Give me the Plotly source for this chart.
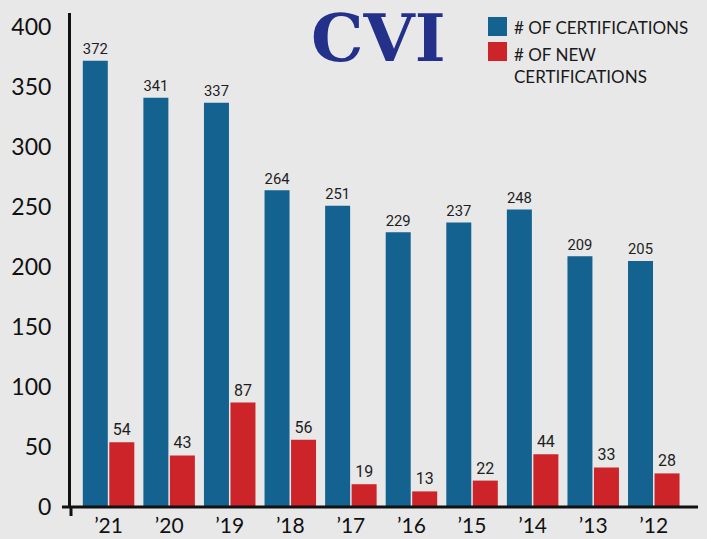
import plotly.graph_objects as go

years = ["\u201921", "\u201920", "\u201919", "\u201918", "\u201917", "\u201916", "\u201915", "\u201914", "\u201913", "\u201912"]
certifications = [372, 341, 337, 264, 251, 229, 237, 248, 209, 205]
new_certifications = [54, 43, 87, 56, 19, 13, 22, 44, 33, 28]
y_ticks = [0, 50, 100, 150, 200, 250, 300, 350, 400]

BLUE = "#13628f"
RED = "#cd2429"
NAVY = "#24318a"
BG = "#e8e8e8"
NARROW = "Roboto, Liberation Sans, sans-serif"
GEO = "Lato, Inter, Noto Sans, sans-serif"

fig = go.Figure()
fig.add_trace(go.Bar(
    x=years, y=certifications, name="# OF CERTIFICATIONS",
    marker=dict(color=BLUE, line=dict(width=0)),
    texttemplate="%{y}", textposition="outside",
    textfont=dict(family=NARROW, size=16, color="#1e1e1e"),
    cliponaxis=False, showlegend=False,
))
fig.add_trace(go.Bar(
    x=years, y=new_certifications, name="# OF NEW<br>CERTIFICATIONS",
    marker=dict(color=RED, line=dict(width=0)),
    texttemplate="%{y}", textposition="outside",
    textfont=dict(family=NARROW, size=16, color="#1e1e1e"),
    cliponaxis=False, showlegend=False,
))

W, H = 707, 539
L, R, T, B = 71, 9, 13, 32
pw, ph = W - L - R, H - T - B

def px(x):
    return (x - L) / pw

def py(y):
    return (H - B - y) / ph

fig.update_layout(
    width=W, height=H, autosize=False,
    margin=dict(l=L, r=R, t=T, b=B, pad=0, autoexpand=False),
    paper_bgcolor=BG, plot_bgcolor=BG,
    barmode="group", bargap=0.125, bargroupgap=0.057,
    xaxis=dict(
        type="category", range=[-0.62, 9.73], showgrid=False, showline=False,
        zeroline=False, ticks="", tickfont=dict(family=GEO, size=21, color="#111"),
        ticklabelstandoff=4, automargin=False,
    ),
    yaxis=dict(
        range=[0, 411.7], showgrid=False, zeroline=False, showline=True,
        linecolor="#111", linewidth=3, ticks="", tickvals=y_ticks,
        ticktext=[str(v) for v in y_ticks],
        tickfont=dict(family=GEO, size=23, color="#111"),
        ticklabelstandoff=12, automargin=False,
    ),
    font=dict(family=GEO),
)

# axis baseline extending slightly left of the y axis, and the small tick below
fig.add_shape(type="line", xref="paper", yref="paper", x0=px(62), x1=px(698), y0=0, y1=0,
              line=dict(color="#111", width=3))
fig.add_shape(type="line", xref="paper", yref="paper", x0=0, x1=0, y0=0, y1=py(516),
              line=dict(color="#111", width=3))

# title
fig.add_annotation(text="<b>CVI</b>", xref="paper", yref="paper", x=px(378), y=py(38),
                   xanchor="center", yanchor="middle", showarrow=False,
                   font=dict(family="DejaVu Serif, Liberation Serif, serif", size=66, color=NAVY))

# custom legend
fig.add_shape(type="rect", xref="paper", yref="paper", x0=px(488), x1=px(507), y0=py(36), y1=py(17),
              fillcolor=BLUE, line=dict(width=0))
fig.add_shape(type="rect", xref="paper", yref="paper", x0=px(488), x1=px(507), y0=py(61), y1=py(42),
              fillcolor=RED, line=dict(width=0))
fig.add_annotation(text=fig.data[0].name, xref="paper", yref="paper", x=px(512), y=py(27),
                   xanchor="left", yanchor="middle", showarrow=False, align="left",
                   font=dict(family=GEO, size=17, color="#1a1a1a"))
fig.add_annotation(text=fig.data[1].name, xref="paper", yref="paper", x=px(512), y=py(42),
                   xanchor="left", yanchor="top", showarrow=False, align="left",
                   font=dict(family=GEO, size=17, color="#1a1a1a"))

fig.write_html(
    "out.html",
    config={"displayModeBar": False},
    post_script="document.body.style.margin='0';document.body.style.background='%s';" % BG,
)
